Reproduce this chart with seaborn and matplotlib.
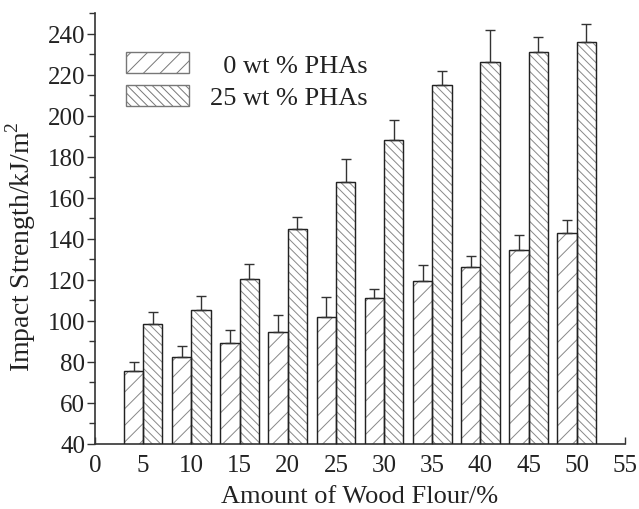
import numpy as np
import pandas as pd
import matplotlib
matplotlib.use("Agg")
import matplotlib.pyplot as plt
import seaborn as sns
from matplotlib.patches import Rectangle, Patch

# ---- data ----
flour = [5, 10, 15, 20, 25, 30, 35, 40, 45, 50]
series_names = ["0 wt % PHAs", "25 wt % PHAs"]
strength_0 = [75.7, 82.2, 89.0, 94.8, 101.9, 110.9, 119.5, 126.0, 134.4, 142.8]
err_top_0 = [80.0, 87.8, 95.6, 102.8, 111.7, 115.6, 127.4, 131.6, 142.0, 149.0]
strength_25 = [98.4, 105.2, 120.6, 144.6, 167.7, 188.1, 214.7, 226.2, 230.8, 236.1]
err_top_25 = [104.4, 111.9, 127.6, 150.5, 179.1, 197.8, 221.6, 241.5, 238.2, 244.7]
x_ticks = [0, 5, 10, 15, 20, 25, 30, 35, 40, 45, 50, 55]
y_ticks = [40, 60, 80, 100, 120, 140, 160, 180, 200, 220, 240]

df = pd.DataFrame({
    "flour": flour * 2,
    "strength": strength_0 + strength_25,
    "series": [series_names[0]] * len(flour) + [series_names[1]] * len(flour),
})

sns.set_style("ticks")
plt.rcParams["font.family"] = ["Liberation Serif", "DejaVu Serif"]
plt.rcParams["mathtext.fontset"] = "custom"
plt.rcParams["mathtext.rm"] = "Liberation Serif"
plt.rcParams["hatch.linewidth"] = 0.7

TICK_FS = 18
LAB_FS = 19
LEG_FS = 19
TXT = "#222222"
fig = plt.figure(figsize=(6.39, 5.10), dpi=100)
ax = fig.add_axes([0.1487, 0.1275, 0.8293, 0.845])

sns.barplot(data=df, x="flour", y="strength", hue="series", native_scale=True,
            width=0.8, errorbar=None, palette=["white", "white"],
            edgecolor="#888888", linewidth=0.8, legend=False, ax=ax)

hatches = {series_names[0]: "//", series_names[1]: "\\\\\\\\"}
conts = ax.containers
for cont, name in zip(conts, series_names):
    for p in cont:
        p.set_hatch(hatches[name])
        p.set_edgecolor("#888888")
        ax.add_patch(Rectangle(p.get_xy(), p.get_width(), p.get_height(),
                               fill=False, edgecolor="#222222", linewidth=1.0, zorder=3))

# error bars (upper only)
for cont, vals, tops in zip(conts, [strength_0, strength_25], [err_top_0, err_top_25]):
    xs = [p.get_x() + p.get_width() / 2 for p in cont]
    up = [t - v for t, v in zip(tops, vals)]
    ax.errorbar(xs, vals, yerr=[[0] * len(vals), up], fmt="none", ecolor="#333333",
                elinewidth=1.0, capsize=3.5, capthick=1.0, zorder=4)

ax.set_xlim(0, 55)
ax.set_ylim(40, 250)
ax.set_xticks(x_ticks)
ax.set_xticklabels([str(t) for t in x_ticks])
ax.set_yticks(y_ticks)
ax.set_yticklabels([str(t) for t in y_ticks])
ax.set_yticks(np.arange(50, 251, 20), minor=True)

for s in ["top", "right"]:
    ax.spines[s].set_visible(False)
for s in ["left", "bottom"]:
    ax.spines[s].set_color("#333333")
    ax.spines[s].set_linewidth(1.2)

ax.tick_params(axis="x", direction="in", length=5, width=1.0, color="#333333",
               labelsize=TICK_FS, pad=7, labelcolor=TXT)
ax.tick_params(axis="y", which="major", direction="out", length=6, width=1.0,
               color="#333333", labelsize=TICK_FS, pad=1, labelcolor=TXT)
ax.tick_params(axis="y", which="minor", direction="out", length=4, width=1.0,
               color="#333333")

ax.set_xlabel("Amount of Wood Flour/%", fontsize=LAB_FS, color=TXT, labelpad=7)
ax.set_ylabel(r"Impact Strength/kJ/m$^{2}$", fontsize=20, color=TXT)
ax.yaxis.set_label_coords(-0.108, 0.46)

handles = [Patch(facecolor="white", edgecolor="#777777", hatch=hatches[n], linewidth=1.0)
           for n in series_names]
labels = ["  " + series_names[0], series_names[1]]
leg = ax.legend(handles, labels, loc="upper left", bbox_to_anchor=(0.058, 0.91),
                frameon=False, fontsize=LEG_FS, handlelength=2.4, handleheight=0.87,
                handletextpad=0.8, labelspacing=0.3, borderaxespad=0, borderpad=0)
for t in leg.get_texts():
    t.set_color(TXT)

fig.savefig("out.png", dpi=100)
